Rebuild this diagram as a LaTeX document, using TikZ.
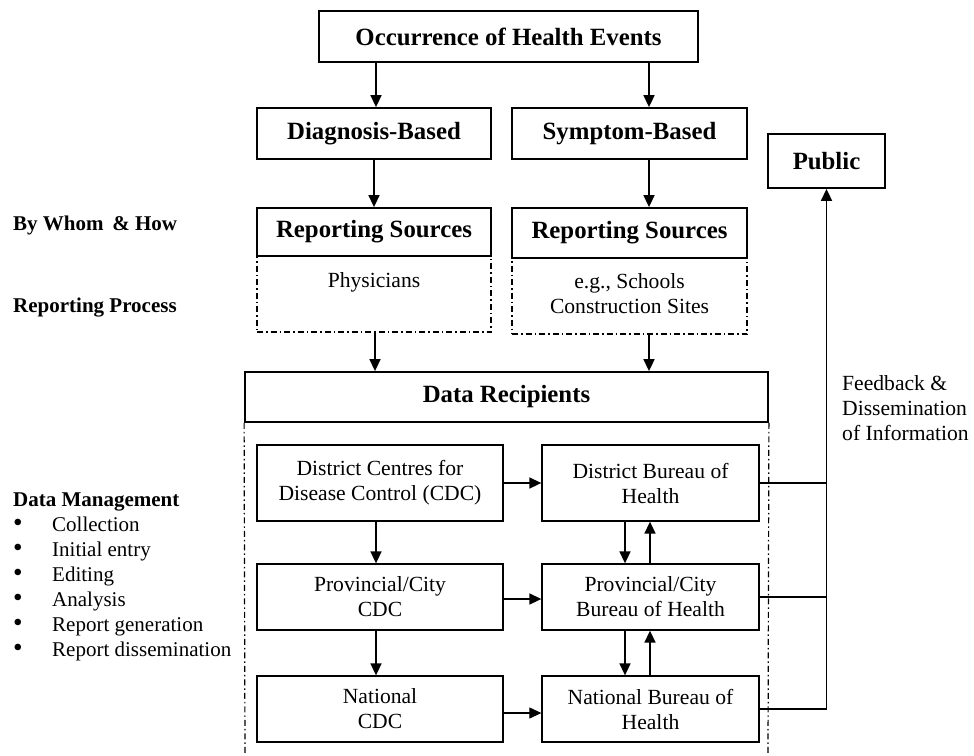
\documentclass[tikz,border=0pt]{standalone}
\usepackage{fontspec}
\setmainfont{Liberation Serif}
\usetikzlibrary{arrows.meta,calc}
\begin{document}
\begin{tikzpicture}[x=1pt,y=-1pt,
  box/.style={draw,line width=1.8pt,inner sep=0pt,font=\fontsize{24.8}{28}\selectfont\bfseries},
  ibox/.style={draw,line width=1.3pt,inner sep=0pt,align=center,font=\fontsize{21.6}{25}\selectfont},
  ddbox/.style={draw,line width=1.2pt,dash pattern=on 6pt off 3pt on 1.5pt off 3pt,inner sep=0pt},
  ddline/.style={line width=1.2pt,dash pattern=on 6pt off 3pt on 1.5pt off 3pt},
  arr/.style={line width=1.6pt,-{Triangle[length=12pt,width=11pt]}},
  fb/.style={line width=1.6pt},
  lab/.style={anchor=west,inner sep=0pt,font=\fontsize{21}{25}\selectfont\bfseries},
  txt/.style={inner sep=0pt,align=center,font=\fontsize{21.6}{25}\selectfont},
  item/.style={anchor=west,inner sep=0pt,text height=13pt,text depth=4pt,font=\fontsize{21}{25}\selectfont}
]
\useasboundingbox (0,0) rectangle (974,755);

% top
\node[box,minimum width=379pt,minimum height=51pt] (top) at (508.5,36.5) {Occurrence of Health Events};
\node[box,minimum width=234pt,minimum height=51pt] (diag) at (374,133.5) {Diagnosis-Based};
\node[box,minimum width=235pt,minimum height=51pt] (symp) at (629.5,133.5) {Symptom-Based};
\node[box,minimum width=234pt,minimum height=48pt] (rs1) at (374,232) {Reporting Sources};
\node[box,minimum width=235pt,minimum height=50pt] (rs2) at (629.5,233) {Reporting Sources};
\node[ddbox,minimum width=234pt,minimum height=76pt] (phys) at (374,294) {};
\node[ddbox,minimum width=235pt,minimum height=76pt] (sch) at (629.5,296) {};
\node[txt] (physt) at (374,282) {Physicians};
\node[txt] (scht) at (629.5,294) {e.g., Schools\\Construction Sites};

\node[box,minimum width=117pt,minimum height=54pt] (pub) at (826.5,161) {Public};

\node[box,minimum width=523pt,minimum height=50pt] (dr) at (506.5,397) {Data Recipients};
\coordinate (c1) at (245,755);
\coordinate (c2) at (768,755);
\draw[ddline] (dr.south west) -- (c1);
\draw[ddline] (dr.south east) -- (c2);

% arrows top part
\draw[arr] (top.south -| 376,0) -- (diag.north -| 376,0);
\draw[arr] (top.south -| 649,0) -- (symp.north -| 649,0);
\draw[arr] (diag.south -| 374,0) -- (rs1.north -| 374,0);
\draw[arr] (symp.south -| 649,0) -- (rs2.north -| 649,0);
\draw[arr] (phys.south -| 375,0) -- (dr.north -| 375,0);
\draw[arr] (sch.south -| 649,0) -- (dr.north -| 649,0);

% inner boxes
\node[ibox,minimum width=246pt,minimum height=76pt] (dcdc) at (380,483) {District Centres for\\Disease Control (CDC)};
\node[ibox,minimum width=217pt,minimum height=76pt] (dbh) at (650.5,483) {District Bureau of\\Health};
\node[ibox,minimum width=246pt,minimum height=66pt] (pcdc) at (380,597) {Provincial/City\\CDC};
\node[ibox,minimum width=217pt,minimum height=66pt] (pbh) at (650.5,597) {Provincial/City\\Bureau of Health};
\node[ibox,minimum width=246pt,minimum height=66pt] (ncdc) at (380,709) {National\\CDC};
\node[ibox,minimum width=217pt,minimum height=66pt] (nbh) at (650.5,709) {National Bureau of\\Health};

\draw[arr] (dcdc.south -| 376,0) -- (pcdc.north -| 376,0);
\draw[arr] (pcdc.south -| 376,0) -- (ncdc.north -| 376,0);
\draw[arr] (dcdc.east) -- (dbh.west);
\draw[arr] (pcdc.east |- 0,599) -- (pbh.west |- 0,599);
\draw[arr,line width=1.1pt] (ncdc.east |- 0,713) -- (nbh.west |- 0,713);
\draw[arr] (dbh.south -| 625,0) -- (pbh.north -| 625,0);
\draw[arr] (pbh.north -| 650,0) -- (dbh.south -| 650,0);
\draw[arr] (pbh.south -| 625,0) -- (nbh.north -| 625,0);
\draw[arr] (nbh.north -| 650,0) -- (pbh.south -| 650,0);

% feedback
\coordinate (f1) at (pub.south |- dbh.east);
\coordinate (f2) at (pub.south |- pbh.east);
\coordinate (f3) at (pub.south |- nbh.east);
\draw[fb] (dbh.east) -- (f1);
\draw[fb] (pbh.east) -- (f2);
\draw[fb] (nbh.east) -- (f3);
\draw[arr] (f3) -- (pub.south);
\node[txt,anchor=west,align=left] (fbt) at (842,408) {Feedback \&\\Dissemination\\of Information};

% left labels
\node[lab] (l1) at (13,225) {By Whom \,\& How};
\node[lab] (l2) at (13,308) {Reporting Process};
\node[lab] (l3) at (13,502) {Data Management};
\foreach \t [count=\i] in {Collection,Initial entry,Editing,Analysis,Report generation,Report dissemination}{
  \node[item] (dm\i) at (13,502+25*\i) {\makebox[39pt][l]{\smash{\scalebox{1.3}{•}}}\t};
}
\end{tikzpicture}
\end{document}
